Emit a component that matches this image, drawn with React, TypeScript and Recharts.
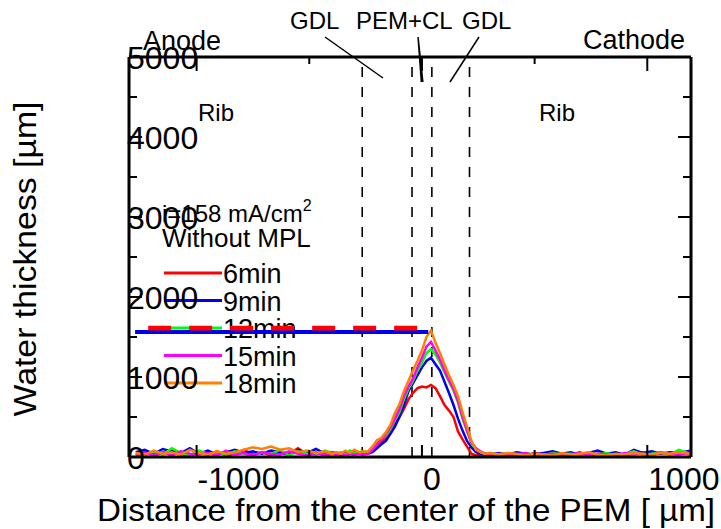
import React from 'react';
import { LineChart, Line, XAxis, YAxis, ReferenceLine, Customized } from 'recharts';

// ---- data ----
const X_POS = [
  -1270, -1230, -1190, -1150, -1110, -1070, -1030, -990, -950, -910, -870, -830, -790, -750, -710, -670, -630, -590, -550, -510, -470, -430,
  -400, -380, -360, -340, -320, -300, -280, -260,
  -240, -220, -200, -180, -160, -140, -120, -100, -80, -60, -40, -20, 0, 20, 40, 60, 80, 100, 120, 140, 160, 180, 200, 220, 240, 260, 280, 300,
  340, 380, 420, 460, 500, 540, 580, 620, 660, 700, 740, 780, 820, 860, 900, 940, 980, 1020, 1060, 1100, 1140, 1190,
];

const MIN_6 = [
  30, 60, 20, 50, 80, 40, 10, 60, 30, 70, 20, 40, 90, 30, 60, 20, 50, 40, 110, 30, 60, 20,
  40, 30, 50, 20, 40, 30, 50, 40,
  50, 90, 150, 190, 230, 300, 420, 500, 600, 720, 800, 860, 880, 870, 900, 860, 760, 650, 580, 500, 320, 220, 130, 40, 20, 30, 20, 30,
  20, 40, 30, 20, 50, 30, 20, 40, 30, 60, 20, 40, 30, 50, 20, 40, 60, 30, 50, 40, 70, 30,
];
const MIN_9 = [
  60, 90, 40, 100, 70, 50, 110, 40, 80, 30, 60, 90, 50, 70, 40, 80, 60, 30, 90, 50, 100, 40,
  60, 50, 30, 60, 40, 70, 50, 40,
  40, 60, 110, 160, 200, 290, 380, 500, 650, 820, 920, 1020, 1120, 1200, 1240, 1160, 1080, 940, 800, 650, 480, 330, 200, 120, 60, 40, 50, 30,
  50, 30, 60, 40, 30, 50, 70, 40, 60, 30, 50, 80, 40, 60, 30, 90, 50, 70, 40, 60, 50, 80,
];
const MIN_12 = [
  40, 20, 70, 30, 110, 50, 20, 80, 40, 60, 30, 70, 40, 20, 60, 40, 90, 20, 70, 40, 30, 80,
  50, 40, 60, 30, 80, 50, 60, 70,
  50, 100, 160, 220, 270, 350, 460, 560, 720, 850, 950, 1080, 1180, 1300, 1350, 1280, 1180, 1060, 940, 830, 680, 480, 320, 170, 100, 60, 40, 50,
  30, 50, 20, 40, 30, 20, 50, 30, 40, 20, 60, 30, 50, 20, 40, 70, 30, 40, 60, 30, 90, 40,
];
const MIN_15 = [
  20, 50, 30, 60, 20, 70, 40, 30, 50, 20, 80, 30, 50, 20, 60, 40, 30, 70, 40, 20, 50, 30,
  60, 30, 40, 20, 50, 30, 40, 30,
  40, 90, 160, 220, 290, 370, 480, 600, 760, 880, 980, 1120, 1240, 1380, 1440, 1330, 1220, 1080, 960, 850, 700, 500, 330, 180, 110, 70, 40, 30,
  40, 20, 30, 50, 20, 30, 40, 20, 30, 50, 20, 40, 30, 20, 50, 30, 40, 20, 60, 40, 30, 50,
];
const MIN_18 = [
  50, 30, 80, 40, 60, 30, 90, 50, 30, 70, 40, 60, 90, 120, 100, 130, 90, 110, 60, 80, 50, 70,
  40, 60, 40, 80, 50, 90, 60, 70,
  70, 130, 210, 240, 310, 400, 550, 660, 820, 950, 1080, 1200, 1330, 1500, 1580, 1430, 1300, 1160, 1020, 900, 760, 560, 380, 200, 90, 60, 40, 50,
  30, 50, 40, 20, 40, 30, 20, 50, 30, 40, 60, 30, 20, 40, 30, 50, 40, 30, 50, 40, 60, 40,
];

const SERIES = [
  { key: 'm6', name: '6min', color: '#ff0000', values: MIN_6 },
  { key: 'm9', name: '9min', color: '#0000f0', values: MIN_9 },
  { key: 'm12', name: '12min', color: '#00ff00', values: MIN_12 },
  { key: 'm15', name: '15min', color: '#ff00ff', values: MIN_15 },
  { key: 'm18', name: '18min', color: '#ff8000', values: MIN_18 },
];

// horizontal level marks
const RED_LEVEL_X = [-1215, 6];
const RED_LEVEL_Y = [1612, 1612];
const BLUE_LEVEL_X = [-1273, 28];
const BLUE_LEVEL_Y = [1562, 1562];

// layer boundaries (GDL | PEM+CL | GDL)
const BOUNDARIES = [-265, -44, 44, 211];

const X_TICKS = [-1000, -500, 0, 500, 1000];
const Y_TICKS = [0, 500, 1000, 1500, 2000, 2500, 3000, 3500, 4000, 4500, 5000];

const rows = X_POS.map((x, i) => {
  const r: any = { x };
  SERIES.forEach((s) => { r[s.key] = s.values[i]; });
  return r;
});
const redLevel = RED_LEVEL_X.map((x, i) => ({ x, v: RED_LEVEL_Y[i] }));
const blueLevel = BLUE_LEVEL_X.map((x, i) => ({ x, v: BLUE_LEVEL_Y[i] }));

const FONT = '"Liberation Sans", Arial, Helvetica, sans-serif';
const AXIS_LINE = { stroke: '#000', strokeWidth: 3 };

const LeftTick = (p: any) => {
  const { x, y, payload } = p;
  const major = payload.value % 1000 === 0;
  return (
    <g>
      {major && (
        <text x={x - 2} y={y + 11.5} fontSize={32} fontFamily={FONT} fill="#000" textAnchor="start">
          {payload.value}
        </text>
      )}
      <line x1={x} x2={x + (major ? 13 : 8)} y1={y} y2={y} stroke="#000" strokeWidth={2} />
    </g>
  );
};
const RightTick = (p: any) => {
  const { x, y, payload } = p;
  const major = payload.value % 1000 === 0;
  return <line x1={x} x2={x - (major ? 13 : 8)} y1={y} y2={y} stroke="#000" strokeWidth={2} />;
};
const BottomTick = (p: any) => {
  const { x, y, payload } = p;
  const major = payload.value % 1000 === 0;
  return (
    <g>
      {major && (
        <text x={x + 1} y={y + 33} fontSize={32} fontFamily={FONT} fill="#000" textAnchor="start">
          {payload.value}
        </text>
      )}
      <line x1={x} x2={x} y1={y} y2={y - (major ? 12 : 7)} stroke="#000" strokeWidth={2} />
    </g>
  );
};
const TopTick = (p: any) => {
  const { x, y, payload } = p;
  const major = payload.value % 1000 === 0;
  return <line x1={x} x2={x} y1={y} y2={y + (major ? 14 : 7)} stroke="#000" strokeWidth={2} />;
};

const LegendLayer = () => {
  const baseY = 283;
  const step = 27.5;
  return (
    <g fontFamily={FONT} fill="#000">
      <text x={162} y={222} fontSize={24}>
        i=158 mA/cm<tspan dy={-11} fontSize={16}>2</tspan>
      </text>
      <text x={162} y={247} fontSize={26}>Without MPL</text>
      {SERIES.map((s, i) => (
        <g key={s.key}>
          <line x1={164} x2={222} y1={baseY + i * step - 10} y2={baseY + i * step - 10} stroke={s.color} strokeWidth={3} />
          <text x={223} y={baseY + i * step} fontSize={27}>{s.name}</text>
        </g>
      ))}
    </g>
  );
};

const AnnotationLayer = () => (
  <g fontFamily={FONT} fill="#000">
    <text x={143} y={50} fontSize={27}>Anode</text>
    <text x={583} y={49} fontSize={27}>Cathode</text>
    <text x={198} y={121} fontSize={24}>Rib</text>
    <text x={539} y={121} fontSize={24}>Rib</text>
    <text x={290} y={29} fontSize={24}>GDL</text>
    <text x={356} y={29} fontSize={24}>PEM+CL</text>
    <text x={462} y={29} fontSize={24}>GDL</text>
    <line x1={325} y1={37} x2={383} y2={78} stroke="#000" strokeWidth={1.5} />
    <polygon points="417.3,37 418.8,37 423.6,82 420.6,82" fill="#000" />
    <line x1={479} y1={37} x2={450} y2={82} stroke="#000" strokeWidth={1.5} />
    <text
      x={0}
      y={0}
      transform="translate(36,259) rotate(-90)"
      fontSize={32}
      textAnchor="middle"
      textLength={315}
      lengthAdjust="spacingAndGlyphs"
    >
      Water thickness [µm]
    </text>
    <text x={97} y={521} fontSize={32} textLength={618} lengthAdjust="spacingAndGlyphs">
      Distance from the center of the PEM [ µm]
    </text>
  </g>
);

export default function App() {
  return (
    <div style={{ position: 'absolute', left: 0, top: 0, width: 721, height: 529, background: '#fff' }}>
      <LineChart width={721} height={529} data={rows} margin={{ top: 56, right: 29, bottom: 71, left: 128 }}>
        <XAxis
          xAxisId="b"
          type="number"
          dataKey="x"
          domain={[-1300, 1194]}
          allowDataOverflow
          ticks={X_TICKS}
          interval={0}
          height={1}
          tickSize={0}
          tickMargin={0}
          tickLine={false}
          tick={BottomTick}
          axisLine={AXIS_LINE}
        />
        <XAxis
          xAxisId="t"
          orientation="top"
          type="number"
          dataKey="x"
          domain={[-1300, 1194]}
          allowDataOverflow
          ticks={X_TICKS}
          interval={0}
          height={1}
          tickSize={0}
          tickMargin={0}
          tickLine={false}
          tick={TopTick}
          axisLine={AXIS_LINE}
        />
        <YAxis
          yAxisId="l"
          type="number"
          domain={[0, 5000]}
          allowDataOverflow
          ticks={Y_TICKS}
          interval={0}
          width={1}
          tickSize={0}
          tickMargin={0}
          tickLine={false}
          tick={LeftTick}
          axisLine={AXIS_LINE}
        />
        <YAxis
          yAxisId="r"
          orientation="right"
          type="number"
          domain={[0, 5000]}
          allowDataOverflow
          ticks={Y_TICKS}
          interval={0}
          width={1}
          tickSize={0}
          tickMargin={0}
          tickLine={false}
          tick={RightTick}
          axisLine={AXIS_LINE}
        />
        {BOUNDARIES.map((b) => (
          <ReferenceLine key={b} xAxisId="b" yAxisId="l" x={b} stroke="#000" strokeWidth={1.6} strokeDasharray="10 10" />
        ))}
        <Customized component={LegendLayer} />
        {SERIES.map((s) => (
          <Line
            key={s.key}
            xAxisId="b"
            yAxisId="l"
            type="linear"
            dataKey={s.key}
            name={s.name}
            stroke={s.color}
            strokeWidth={2.5}
            dot={false}
            isAnimationActive={false}
          />
        ))}
        <Line
          xAxisId="b"
          yAxisId="l"
          data={blueLevel}
          dataKey="v"
          stroke="#0000f0"
          strokeWidth={4}
          dot={false}
          isAnimationActive={false}
          legendType="none"
        />
        <Line
          xAxisId="b"
          yAxisId="l"
          data={redLevel}
          dataKey="v"
          stroke="#ff0000"
          strokeWidth={4.7}
          strokeDasharray="23 18"
          dot={false}
          isAnimationActive={false}
          legendType="none"
        />
        <Customized component={AnnotationLayer} />
      </LineChart>
    </div>
  );
}
